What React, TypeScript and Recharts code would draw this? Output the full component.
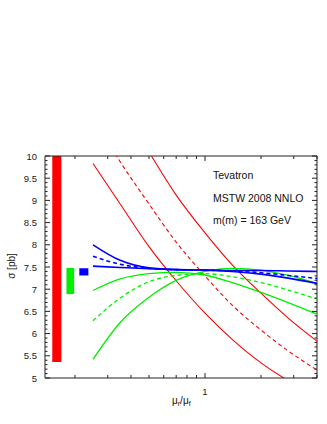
import React from "react";
import {
  ComposedChart,
  Line,
  XAxis,
  YAxis,
  ReferenceArea,
  ReferenceLine,
} from "recharts";

// mu_r / mu_f values where the curves are sampled
const muRatio = [0.25, 0.35, 0.5, 0.7, 1, 1.4, 2, 2.8, 4];

// red family
const redLow = [9.83, 8.92, 7.96, 7.19, 6.46, 5.87, 5.34, 4.94, 4.6];
const redMid = [10.86, 9.87, 8.92, 8.06, 7.3, 6.64, 6.08, 5.61, 5.18];
const redHigh = [12.36, 11.17, 10.09, 9.12, 8.27, 7.55, 6.91, 6.35, 5.83];

// green family
const greenA = [6.97, 7.23, 7.35, 7.38, 7.32, 7.15, 6.93, 6.7, 6.44];
const greenMid = [6.29, 6.8, 7.17, 7.31, 7.35, 7.28, 7.15, 6.98, 6.78];
const greenC = [5.42, 6.25, 6.82, 7.2, 7.4, 7.47, 7.43, 7.31, 7.13];

// blue family
const blueA = [8.0, 7.65, 7.48, 7.44, 7.43, 7.4, 7.34, 7.25, 7.13];
const blueMid = [7.74, 7.56, 7.47, 7.44, 7.43, 7.41, 7.37, 7.31, 7.24];
const blueC = [7.52, 7.49, 7.46, 7.44, 7.43, 7.42, 7.42, 7.41, 7.4];

// error bands on the left (x range in mu units, sigma range)
const bandX = [
  [0.151, 0.169],
  [0.18, 0.198],
  [0.211, 0.236],
];
const bandLow = [5.36, 6.89, 7.31];
const bandHigh = [10, 7.48, 7.47];
const bandColors = ["#ff0000", "#00ee00", "#0000ff"];

const yMajor = [5, 5.5, 6, 6.5, 7, 7.5, 8, 8.5, 9, 9.5, 10];
const yMinor = yMajor.slice(0, -1).flatMap((v) => [0.1, 0.2, 0.3, 0.4].map((d) => +(v + d).toFixed(1)));
const xMajor = [1];
const xMinor = [0.2, 0.3, 0.4, 0.5, 0.6, 0.7, 0.8, 0.9, 2, 3, 4];

const notes = ["Tevatron", "MSTW 2008 NNLO", "m(m) = 163 GeV"];

const data = muRatio.map((mu, i) => ({
  mu,
  redLow: redLow[i],
  redMid: redMid[i],
  redHigh: redHigh[i],
  greenA: greenA[i],
  greenMid: greenMid[i],
  greenC: greenC[i],
  blueA: blueA[i],
  blueMid: blueMid[i],
  blueC: blueC[i],
}));

const W = 327;
const H = 424;
const TOP = 156;
const RIGHT = 317;
const FONT = "'Liberation Sans', Arial, sans-serif";
const AXIS = "#222";

const YTick = (props: any) => {
  const { x, y, payload } = props;
  const major = yMajor.includes(payload.value);
  const len = major ? 5 : 2.5;
  return (
    <g>
      <line x1={x} y1={y} x2={x + len} y2={y} stroke={AXIS} />
      <line x1={RIGHT - len} y1={y} x2={RIGHT} y2={y} stroke={AXIS} />
      {major && (
        <text x={x - 8} y={y} dy={3.5} textAnchor="end" fontSize={9.5} fill="#222" fontFamily={FONT}>
          {payload.value}
        </text>
      )}
    </g>
  );
};

const XTick = (props: any) => {
  const { x, y, payload } = props;
  const major = xMajor.includes(payload.value);
  const len = major ? 5 : 3;
  return (
    <g>
      <line x1={x} y1={y} x2={x} y2={y - len} stroke={AXIS} />
      <line x1={x} y1={TOP} x2={x} y2={TOP + len} stroke={AXIS} />
      {major && (
        <text x={x} y={y + 17} textAnchor="middle" fontSize={9.5} fill="#222" fontFamily={FONT}>
          {payload.value}
        </text>
      )}
    </g>
  );
};

const lines = [
  { key: "redLow", color: "#ff0000", width: 1.1, dash: undefined },
  { key: "redMid", color: "#ff0000", width: 1.1, dash: "4 3" },
  { key: "redHigh", color: "#ff0000", width: 1.1, dash: undefined },
  { key: "greenA", color: "#00ee00", width: 1.3, dash: undefined },
  { key: "greenMid", color: "#00ee00", width: 1.3, dash: "4 3" },
  { key: "greenC", color: "#00ee00", width: 1.3, dash: undefined },
  { key: "blueA", color: "#0000ff", width: 1.6, dash: undefined },
  { key: "blueMid", color: "#0000ff", width: 1.6, dash: "4 3" },
  { key: "blueC", color: "#0000ff", width: 1.6, dash: undefined },
];

export default function App() {
  return (
    <div style={{ position: "absolute", left: 0, top: 0, width: W, height: H, background: "#fff" }}>
      <ComposedChart
        width={W}
        height={H}
        data={data}
        margin={{ top: TOP, right: W - RIGHT, bottom: 0, left: 0 }}
      >
        <XAxis
          dataKey="mu"
          type="number"
          scale="log"
          domain={[0.138, 4]}
          allowDataOverflow
          ticks={[...xMinor, ...xMajor].sort((a, b) => a - b)}
          tick={<XTick />}
          tickSize={0}
          tickMargin={0}
          height={46}
          interval={0}
          axisLine={{ stroke: AXIS }}
          tickLine={false}
        />
        <YAxis
          type="number"
          domain={[5, 10]}
          allowDataOverflow
          ticks={[...yMajor, ...yMinor].sort((a, b) => a - b)}
          tick={<YTick />}
          tickSize={0}
          tickMargin={0}
          width={45}
          interval={0}
          axisLine={{ stroke: AXIS }}
          tickLine={false}
        />
        <ReferenceLine y={10} stroke={AXIS} />
        <ReferenceLine x={4} stroke={AXIS} />
        {bandX.map((bx, i) => (
          <ReferenceArea
            key={i}
            x1={bx[0]}
            x2={bx[1]}
            y1={bandLow[i]}
            y2={bandHigh[i]}
            fill={bandColors[i]}
            fillOpacity={1}
            stroke="none"
          />
        ))}
        {lines.map((l) => (
          <Line
            key={l.key}
            dataKey={l.key}
            type="monotone"
            stroke={l.color}
            strokeWidth={l.width}
            strokeDasharray={l.dash}
            dot={false}
            activeDot={false}
            isAnimationActive={false}
          />
        ))}
        <g fontFamily={FONT} fontSize={10.5} fill="#111">
          {notes.map((t, i) => (
            <text key={t} x={213} y={179 + i * 22.5}>
              {t}
            </text>
          ))}
        </g>
        <text
          x={15}
          y={266}
          transform="rotate(-90 15 266)"
          textAnchor="middle"
          fontFamily={FONT}
          fontSize={10}
          fill="#111"
        >
          σ [pb]
        </text>
        <text x={172} y={404} fontFamily={FONT} fontSize={10} fill="#111">
          μ<tspan fontSize={7} dy={2}>r</tspan>
          <tspan dy={-2}>/μ</tspan>
          <tspan fontSize={7} dy={2}>f</tspan>
        </text>
      </ComposedChart>
    </div>
  );
}
